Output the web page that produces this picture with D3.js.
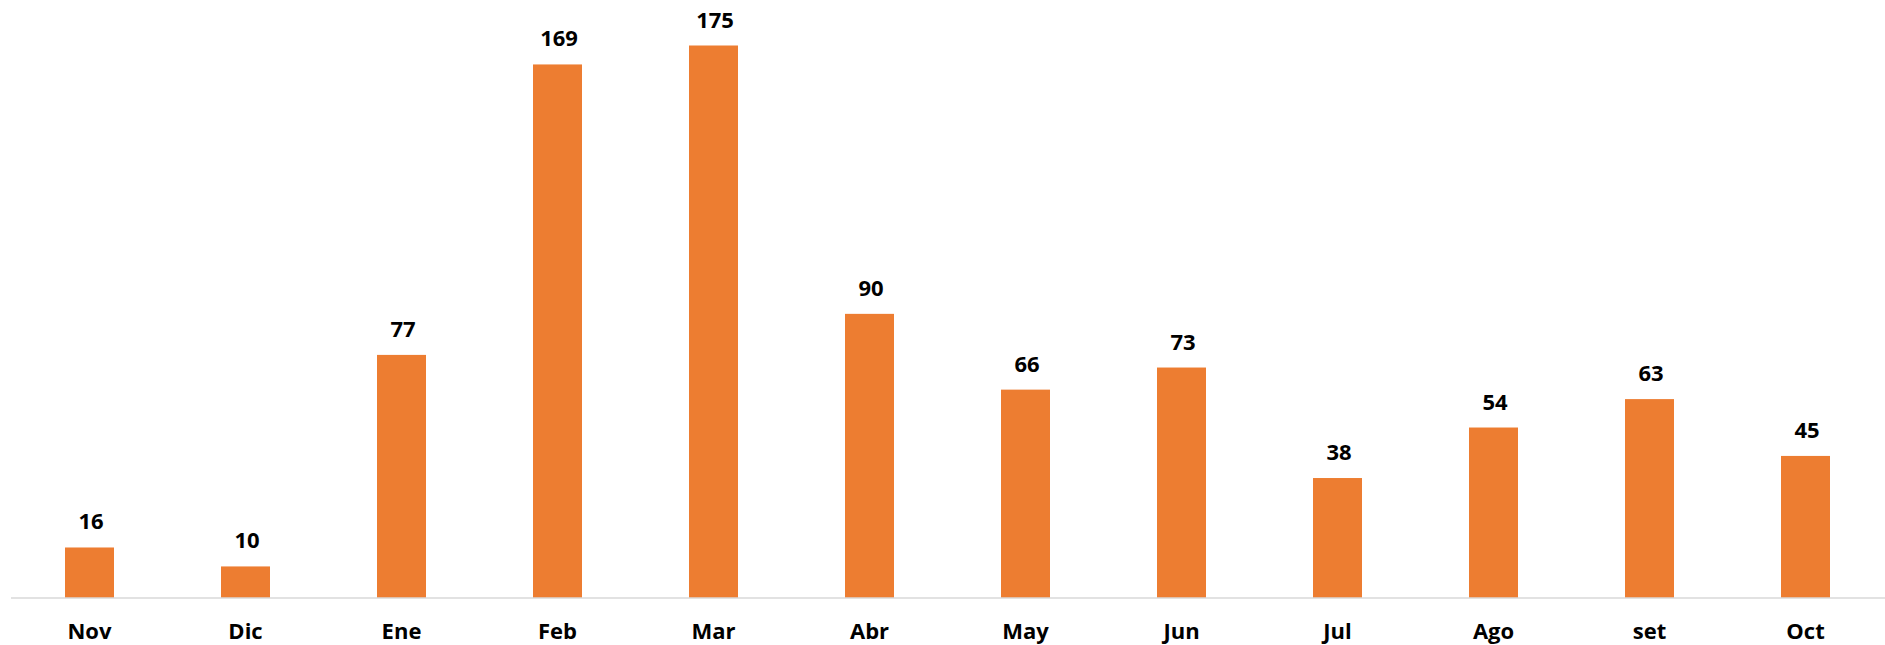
<!DOCTYPE html>
<html>
<head>
<meta charset="utf-8">
<script src="https://cdn.jsdelivr.net/npm/d3@7"></script>
<style>
  body { margin: 0; background: #fff; }
  text { font-family: "Open Sans", Lato, sans-serif; font-weight: bold; fill: #000; }
</style>
</head>
<body>
<div id="chart"></div>
<script>
var months = ["Nov", "Dic", "Ene", "Feb", "Mar", "Abr", "May", "Jun", "Jul", "Ago", "set", "Oct"];
var counts = [16, 10, 77, 169, 175, 90, 66, 73, 38, 54, 63, 45];

var width = 1885, height = 645;
var baseline = 598;

var svg = d3.select("#chart")
  .append("svg")
    .attr("width", width)
    .attr("height", height);

var x = d3.scaleBand()
    .domain(months)
    .range([11.5, 1883.5])
    .paddingInner(0.686)
    .paddingOuter(0.343);

var y = d3.scaleLinear()
    .domain([0, d3.max(counts)])
    .range([baseline, 45.5]);

var data = months.map(function(m, i) { return {month: m, value: counts[i]}; });

svg.selectAll(".bar")
  .data(data)
  .enter().append("rect")
    .attr("class", "bar")
    .attr("x", function(d) { return x(d.month); })
    .attr("y", function(d) { return y(d.value); })
    .attr("width", x.bandwidth())
    .attr("height", function(d) { return baseline - y(d.value); })
    .attr("fill", "#ED7D31");

// baseline
svg.append("line")
  .attr("x1", 11)
  .attr("x2", width)
  .attr("y1", baseline)
  .attr("y2", baseline)
  .attr("stroke", "#D9D9D9")
  .attr("stroke-width", 1.5);

// value labels
svg.selectAll(".val")
  .data(data)
  .enter().append("text")
    .attr("class", "val")
    .attr("x", function(d) { return x(d.month) + x.bandwidth() / 2 + 1.5; })
    .attr("y", function(d) { return y(d.value) - 18; })
    .attr("text-anchor", "middle")
    .style("font-size", "22px")
    .text(function(d) { return d.value; });

// category labels
svg.selectAll(".cat")
  .data(data)
  .enter().append("text")
    .attr("class", "cat")
    .attr("x", function(d) { return x(d.month) + x.bandwidth() / 2; })
    .attr("y", 638.5)
    .attr("text-anchor", "middle")
    .style("font-size", "22px")
    .text(function(d) { return d.month; });
</script>
</body>
</html>
